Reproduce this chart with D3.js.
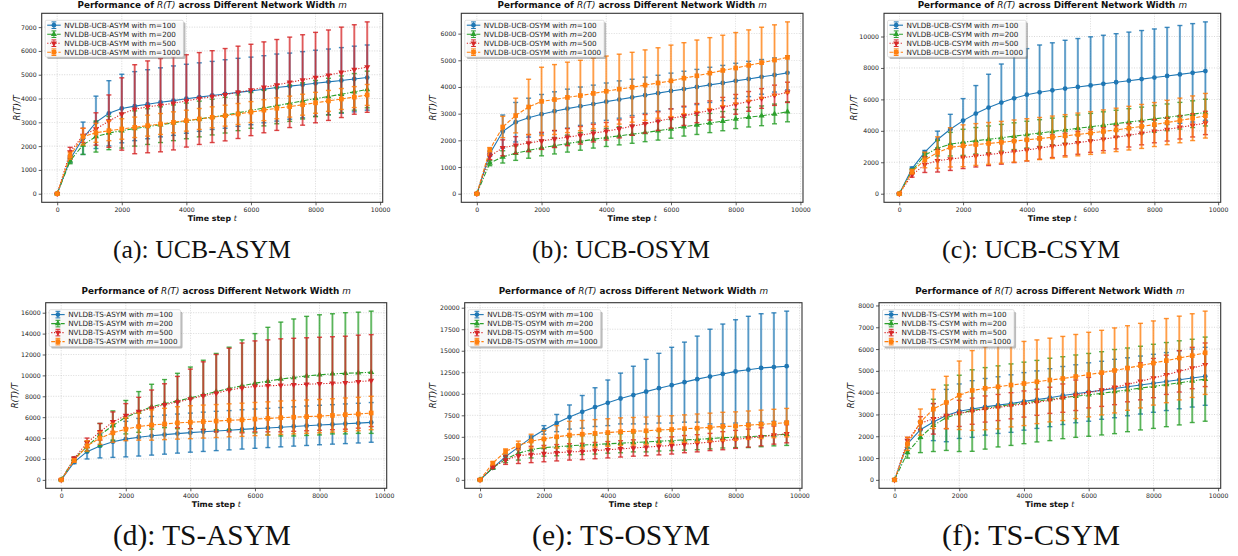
<!DOCTYPE html>
<html>
<head>
<meta charset="utf-8">
<script src="https://cdn.jsdelivr.net/npm/d3@7"></script>
<style>
  body { margin: 0; background: #fff; }
  text { font-family: "DejaVu Sans", sans-serif; }
</style>
</head>
<body>
<div id="chart-area"></div>
<script>
// time steps (x values shared by every panel)
const timeSteps = [0, 400, 800, 1200, 1600, 2000, 2400, 2800, 3200, 3600, 4000, 4400, 4800,
                   5200, 5600, 6000, 6400, 6800, 7200, 7600, 8000, 8400, 8800, 9200, 9600];
const widths = [100, 200, 500, 1000];
const panelNames = ["UCB-ASYM", "UCB-OSYM", "UCB-CSYM", "TS-ASYM", "TS-OSYM", "TS-CSYM"];
const captions = ["(a):  UCB-ASYM", "(b):  UCB-OSYM", "(c):  UCB-CSYM",
                  "(d):  TS-ASYM", "(e):  TS-OSYM", "(f):  TS-CSYM"];
const xTicks = [0, 2000, 4000, 6000, 8000, 10000];
const yTicks = [
  [0, 1000, 2000, 3000, 4000, 5000, 6000, 7000],
  [0, 1000, 2000, 3000, 4000, 5000, 6000],
  [0, 2000, 4000, 6000, 8000, 10000],
  [0, 2000, 4000, 6000, 8000, 10000, 12000, 14000, 16000],
  [0, 2500, 5000, 7500, 10000, 12500, 15000, 17500, 20000],
  [0, 1000, 2000, 3000, 4000, 5000, 6000, 7000, 8000]
];

// mean R(T)/T, one row per width m = 100, 200, 500, 1000
const ucbAsymMean = [
  [0,1450,2330,3000,3380,3580,3680,3760,3840,3910,3990,4060,4130,4190,4260,4320,4390,4460,4520,4580,4640,4700,4760,4820,4880],
  [0,1380,2050,2400,2550,2650,2740,2820,2900,2980,3060,3140,3220,3300,3400,3500,3600,3700,3800,3900,4000,4080,4180,4280,4380],
  [0,1750,2450,2720,3050,3350,3550,3650,3720,3800,3900,4000,4080,4160,4260,4360,4470,4570,4680,4780,4880,4980,5100,5220,5320],
  [0,1600,2400,2560,2650,2720,2790,2860,2930,3000,3070,3140,3210,3280,3350,3430,3510,3590,3660,3740,3820,3900,3980,4060,4150]
];
const ucbAsymStd = [
  [0,150,680,1100,1370,1440,1450,1450,1450,1460,1450,1440,1430,1440,1430,1420,1410,1410,1390,1390,1390,1380,1380,1380,1370],
  [0,120,400,650,700,730,740,750,750,750,750,750,750,750,750,750,750,760,760,760,760,770,770,770,770],
  [0,200,300,680,1100,1520,1870,1930,1960,1960,1940,1930,1930,1940,1940,1920,1910,1910,1900,1900,1900,1900,1900,1880,1900],
  [0,150,350,400,420,430,430,440,440,440,440,440,440,440,440,440,440,440,440,440,440,440,440,440,440]
];
const ucbOsymMean = [
  [0,1500,2330,2680,2850,2980,3090,3190,3280,3360,3450,3530,3610,3690,3770,3850,3920,4000,4080,4150,4230,4300,4380,4450,4530],
  [0,1150,1380,1520,1620,1720,1800,1880,1960,2040,2110,2170,2230,2290,2360,2430,2510,2580,2650,2720,2800,2870,2920,2990,3070],
  [0,1400,1720,1820,1900,1980,2050,2120,2190,2270,2340,2430,2530,2620,2720,2820,2920,3020,3120,3240,3350,3460,3570,3690,3800],
  [0,1650,2500,2930,3250,3460,3530,3610,3680,3760,3840,3920,3990,4070,4150,4230,4330,4420,4520,4620,4710,4810,4910,5010,5110]
];
const ucbOsymStd = [
  [0,100,620,740,730,740,730,730,720,710,700,700,680,680,670,670,670,660,660,660,660,660,650,640,640],
  [0,100,230,270,290,300,310,320,330,330,340,340,340,340,350,350,350,360,360,360,360,370,370,370,375],
  [0,120,300,320,320,320,320,320,330,330,330,340,340,350,350,360,360,360,360,370,370,370,370,380,380],
  [0,80,400,650,1040,1280,1310,1320,1320,1320,1320,1310,1310,1320,1320,1340,1330,1340,1330,1320,1330,1330,1330,1320,1330]
];
const ucbCsymMean = [
  [0,1600,2650,3450,4100,4650,5100,5480,5800,6070,6300,6450,6580,6690,6790,6890,6990,7090,7190,7290,7390,7490,7590,7690,7800],
  [0,1450,2450,2900,3150,3270,3370,3460,3560,3660,3760,3860,3960,4060,4160,4260,4360,4460,4560,4660,4760,4860,4960,5060,5160],
  [0,1200,1850,2100,2200,2300,2400,2490,2580,2680,2780,2900,3020,3130,3240,3360,3470,3590,3710,3850,3980,4090,4220,4350,4500],
  [0,1400,2150,2620,2950,3050,3130,3200,3270,3350,3430,3510,3590,3680,3770,3860,3960,4060,4170,4280,4400,4530,4660,4800,4960]
];
const ucbCsymStd = [
  [0,100,100,530,950,1400,1780,2120,2450,2730,2930,3010,3020,3070,3080,3090,3090,3090,3090,3090,3090,3090,3110,3130,3130],
  [0,120,150,500,750,830,840,850,850,850,850,850,850,850,850,850,850,850,850,850,850,850,850,850,850],
  [0,150,500,720,720,700,700,700,700,700,700,710,720,720,730,730,730,740,740,740,740,740,740,740,740],
  [0,150,500,1000,1250,1330,1330,1330,1330,1340,1340,1340,1350,1350,1360,1360,1370,1380,1390,1400,1400,1410,1420,1420,1420]
];
const tsAsymMean = [
  [0,1700,2700,3250,3650,3900,4080,4220,4330,4430,4520,4600,4680,4750,4830,4900,4970,5040,5110,5180,5250,5310,5370,5430,5500],
  [0,2000,3200,4300,5200,6000,6500,7000,7300,7550,7850,8150,8450,8750,9000,9250,9450,9650,9800,9950,10050,10150,10200,10250,10300],
  [0,2050,3550,4600,5550,6150,6550,6850,7200,7450,7750,8050,8300,8600,8800,8950,9000,9050,9100,9150,9200,9250,9300,9400,9500],
  [0,1850,3250,4000,4500,4850,5100,5250,5350,5450,5520,5580,5630,5700,5750,5820,5880,5950,6000,6050,6100,6170,6240,6300,6400]
];
const tsAsymStd = [
  [0,150,700,1150,1500,1700,1800,1850,1870,1870,1870,1880,1880,1880,1880,1880,1880,1880,1880,1890,1890,1890,1900,1900,1900],
  [0,150,500,1100,1400,1600,1950,2150,2300,2650,2950,3300,3650,3950,4400,4750,5150,5450,5600,5700,5750,5750,5800,5800,5850],
  [0,150,450,800,950,1150,1350,1750,2000,2450,2850,3250,3700,4000,4300,4350,4400,4450,4450,4450,4450,4450,4450,4450,4400],
  [0,150,500,600,900,1100,1300,1450,1500,1550,1580,1580,1580,1580,1590,1590,1590,1600,1600,1600,1600,1600,1600,1600,1600]
];
const tsOsymMean = [
  [0,1400,2700,3800,4900,5800,6600,7300,7900,8450,8950,9450,9850,10250,10650,11000,11350,11700,12000,12300,12600,12800,13000,13100,13200],
  [0,1400,2400,3100,3500,3750,3850,3950,4050,4100,4200,4250,4350,4400,4500,4550,4650,4700,4800,4900,4950,5000,5100,5200,5300],
  [0,1500,2300,2800,2950,3050,3150,3250,3300,3400,3500,3600,3700,3800,3900,4000,4150,4250,4400,4550,4700,4850,5000,5200,5350],
  [0,1950,3300,4000,4500,4750,5000,5200,5300,5400,5500,5600,5650,5700,5800,5850,5950,6000,6100,6200,6250,6350,6450,6550,6650]
];
const tsOsymStd = [
  [0,150,300,300,200,500,1000,1400,1900,2250,2650,2950,3350,3750,4050,4400,4650,5000,5500,5800,6000,6200,6300,6300,6400],
  [0,150,400,800,950,1000,1050,1050,1100,1100,1100,1100,1100,1150,1150,1150,1200,1200,1200,1200,1200,1250,1250,1250,1300],
  [0,150,500,900,950,950,950,950,950,950,950,950,950,1000,1000,1000,1000,1000,1000,1050,1050,1050,1050,1050,1050],
  [0,150,300,500,800,1000,1300,1600,1600,1600,1600,1600,1600,1600,1600,1600,1600,1650,1650,1650,1650,1650,1650,1650,1650]
];
const tsCsymMean = [
  [0,1650,2300,2650,2950,3150,3250,3350,3430,3500,3600,3680,3770,3870,3950,4030,4110,4190,4270,4350,4430,4510,4590,4670,4750],
  [0,1250,1950,2500,2850,3050,3180,3280,3370,3450,3530,3610,3690,3770,3840,3900,3970,4050,4130,4210,4290,4370,4450,4540,4620],
  [0,1800,2600,2800,2950,3050,3150,3250,3320,3400,3480,3560,3650,3750,3880,4000,4120,4250,4380,4520,4670,4820,4980,5130,5280],
  [0,1650,2650,3250,3550,3880,4100,4200,4270,4350,4420,4500,4580,4650,4740,4830,4920,5020,5130,5240,5360,5470,5590,5700,5830]
];
const tsCsymStd = [
  [0,200,400,850,1200,1250,1300,1300,1300,1320,1320,1320,1330,1330,1330,1340,1330,1340,1330,1330,1330,1330,1330,1330,1330],
  [0,250,700,1200,1500,1750,1870,1870,1860,1870,1870,1870,1890,1880,1890,1900,1910,1930,1920,1920,1930,1930,1930,1910,1930],
  [0,150,300,700,600,600,600,600,600,600,600,600,600,650,700,700,750,800,800,850,900,900,950,950,1000],
  [0,300,600,900,1200,1570,1830,1900,1930,1920,1930,1920,1920,1930,1930,1940,1940,1950,1940,1940,1930,1930,1920,1920,1910]
];

const panelMeans = [ucbAsymMean, ucbOsymMean, ucbCsymMean, tsAsymMean, tsOsymMean, tsCsymMean];
const panelStds  = [ucbAsymStd, ucbOsymStd, ucbCsymStd, tsAsymStd, tsOsymStd, tsCsymStd];
const italicM = [false, true, true, true, true, false];

// styles per width
const colors = ["#1f77b4", "#2ca02c", "#d62728", "#ff7f0e"];
const dashes = [null, "5,1.6,1.2,1.6", "1.2,1.6", "4,1.6"];
const symbols = [d3.symbolCircle, d3.symbolTriangle, d3.symbolTriangle, d3.symbolSquare];
const symRot = [0, 0, 180, 0];
const symSize = [18, 16, 16, 22];

// axes boxes (pixels)
const boxes = [
  {L: 41.7,  R: 382.7,  T: 13.3,  B: 202.3, yl: 17,    ty: 8.1,   cx: 202,  cy: 258},
  {L: 461.3, R: 803,    T: 13.3,  B: 202.3, yl: 433,   ty: 8.1,   cx: 621,  cy: 258},
  {L: 884,   R: 1220.7, T: 13.3,  B: 202.3, yl: 854,   ty: 8.1,   cx: 1031, cy: 258},
  {L: 45.7,  R: 386.7,  T: 302.7, B: 488.3, yl: 15,    ty: 293.8, cx: 202,  cy: 545},
  {L: 464.7, R: 802,    T: 302.7, B: 488.3, yl: 432.7, ty: 293.8, cx: 621,  cy: 545},
  {L: 879,   R: 1220.7, T: 302.7, B: 488.3, yl: 851,   ty: 293.8, cx: 1031, cy: 545}
];

let svg = d3.select("#chart-area").append("svg")
            .attr("width", 1238)
            .attr("height", 556);

function drawPanel(p) {
  const b = boxes[p], means = panelMeans[p], stds = panelStds[p];

  let lo = d3.min(means, (s, k) => d3.min(s, (v, i) => v - stds[k][i]));
  let hi = d3.max(means, (s, k) => d3.max(s, (v, i) => v + stds[k][i]));
  let pad = (hi - lo) * 0.05;

  let x = d3.scaleLinear().domain([-480, 10080]).range([b.L, b.R]);
  let y = d3.scaleLinear().domain([lo - pad, hi + pad]).range([b.B, b.T]);

  let g = svg.append("g").attr("class", "panel" + p);

  // grid
  g.append("g").selectAll("line").data(xTicks).enter().append("line")
   .attr("x1", d => x(d)).attr("x2", d => x(d)).attr("y1", b.T).attr("y2", b.B)
   .attr("stroke", "#b0b0b0").attr("stroke-width", 0.6).attr("stroke-dasharray", "1,1.5").attr("opacity", 0.8);
  g.append("g").selectAll("line").data(yTicks[p]).enter().append("line")
   .attr("x1", b.L).attr("x2", b.R).attr("y1", d => y(d)).attr("y2", d => y(d))
   .attr("stroke", "#b0b0b0").attr("stroke-width", 0.6).attr("stroke-dasharray", "1,1.5").attr("opacity", 0.8);

  // axes
  let xa = g.append("g").attr("transform", `translate(0,${b.B})`)
            .call(d3.axisBottom(x).tickValues(xTicks).tickSize(3).tickPadding(2).tickFormat(d3.format("d")));
  let ya = g.append("g").attr("transform", `translate(${b.L},0)`)
            .call(d3.axisLeft(y).tickValues(yTicks[p]).tickSize(3).tickPadding(2).tickFormat(d3.format("d")));
  [xa, ya].forEach(a => {
    a.select(".domain").remove();
    a.selectAll("line").attr("stroke", "#333").attr("stroke-width", 0.8);
    a.selectAll("text").attr("font-size", "6.2px").attr("fill", "#222")
     .style("font-family", "DejaVu Sans");
  });

  // series: error bars, then line and markers
  const line = d3.line().x((d, i) => x(timeSteps[i])).y(d => y(d));
  means.forEach((s, k) => {
    let sg = g.append("g");
    let eb = sg.append("g").selectAll("g").data(s).enter().append("g");
    const top = (d, i) => y(d + stds[k][i]), bot = (d, i) => y(d - stds[k][i]);
    eb.append("line")
      .attr("x1", (d, i) => x(timeSteps[i])).attr("x2", (d, i) => x(timeSteps[i]))
      .attr("y1", top).attr("y2", bot)
      .attr("stroke", colors[k]).attr("stroke-width", 2.2).attr("opacity", 0.5);
    eb.append("line")
      .attr("x1", (d, i) => x(timeSteps[i])).attr("x2", (d, i) => x(timeSteps[i]))
      .attr("y1", top).attr("y2", bot)
      .attr("stroke", colors[k]).attr("stroke-width", 0.6);
    [top, bot].forEach(f => {
      eb.append("line")
        .attr("x1", (d, i) => x(timeSteps[i]) - 2.5).attr("x2", (d, i) => x(timeSteps[i]) + 2.5)
        .attr("y1", f).attr("y2", f)
        .attr("stroke", colors[k]).attr("stroke-width", 1.4).attr("opacity", 0.85);
    });

    sg.append("path").attr("d", line(s))
      .attr("fill", "none").attr("stroke", colors[k]).attr("stroke-width", 1.1)
      .attr("stroke-dasharray", dashes[k]);

    sg.append("g").selectAll("path").data(s).enter().append("path")
      .attr("d", d3.symbol().type(symbols[k]).size(symSize[k]))
      .attr("transform", (d, i) => `translate(${x(timeSteps[i])},${y(d)}) rotate(${symRot[k]})`)
      .attr("fill", colors[k]);
  });

  // frame
  g.append("rect").attr("x", b.L).attr("y", b.T).attr("width", b.R - b.L).attr("height", b.B - b.T)
   .attr("fill", "none").attr("stroke", "#333").attr("stroke-width", 1.1);

  // title
  let title = g.append("text").attr("x", (b.L + b.R) / 2).attr("y", b.ty)
               .attr("text-anchor", "middle").attr("font-size", "8.8px").attr("font-weight", "bold").attr("fill", "#111");
  title.append("tspan").text("Performance of ");
  title.append("tspan").attr("font-style", "italic").attr("font-weight", "normal").text("R(T)");
  title.append("tspan").text(" across Different Network Width ");
  title.append("tspan").attr("font-style", "italic").attr("font-weight", "normal").text("m");

  // axis labels
  let xl = g.append("text").attr("x", (b.L + b.R) / 2).attr("y", b.B + 18.5)
            .attr("text-anchor", "middle").attr("font-size", "7.8px").attr("font-weight", "bold").attr("fill", "#111");
  xl.append("tspan").text("Time step ");
  xl.append("tspan").attr("font-style", "italic").attr("font-weight", "normal").text("t");
  g.append("text").attr("transform", `translate(${b.yl},${(b.T + b.B) / 2}) rotate(-90)`)
   .attr("text-anchor", "middle").attr("dy", "0.35em").attr("font-size", "8.4px").attr("font-style", "italic")
   .attr("fill", "#111").text("R(T)/T");

  // legend
  let lg = g.append("g").attr("transform", `translate(${b.L + 3.5},${b.T + 7})`);
  let shadow = lg.append("rect").attr("x", 2).attr("y", 2).attr("rx", 1.5)
                 .attr("fill", "#777").attr("opacity", 0.5);
  let frame = lg.append("rect").attr("rx", 1.5)
                .attr("fill", "#fff").attr("fill-opacity", 0.9).attr("stroke", "#ccc").attr("stroke-width", 0.6);
  let maxW = 0;
  widths.forEach((m, k) => {
    let ry = 4.9 + k * 9;
    let row = lg.append("g").attr("transform", `translate(0,${ry})`);
    row.append("line").attr("x1", 2).attr("x2", 15.5).attr("y1", 0).attr("y2", 0)
       .attr("stroke", colors[k]).attr("stroke-width", 1.1).attr("stroke-dasharray", dashes[k]);
    row.append("line").attr("x1", 8.7).attr("x2", 8.7).attr("y1", -3.3).attr("y2", 3.3)
       .attr("stroke", colors[k]).attr("stroke-width", 1.2).attr("opacity", 0.7);
    [-3.3, 3.3].forEach(cy => row.append("line").attr("x1", 6.3).attr("x2", 11.1).attr("y1", cy).attr("y2", cy)
       .attr("stroke", colors[k]).attr("stroke-width", 1));
    row.append("path").attr("d", d3.symbol().type(symbols[k]).size(symSize[k]))
       .attr("transform", `translate(8.7,0) rotate(${symRot[k]})`).attr("fill", colors[k]);
    let t = row.append("text").attr("x", 19).attr("dy", "0.35em").attr("font-size", "7.2px").attr("fill", "#222");
    t.append("tspan").text(`NVLDB-${panelNames[p]} with `);
    t.append("tspan").attr("font-style", italicM[p] ? "italic" : "normal").text("m");
    t.append("tspan").text(`=${m}`);
    maxW = Math.max(maxW, t.node().getComputedTextLength());
  });
  let lw = 19 + maxW + 3, lh = 4 * 9 + 0.8;
  shadow.attr("width", lw).attr("height", lh);
  frame.attr("width", lw).attr("height", lh);

  // caption below
  let cap = svg.append("text").attr("x", b.cx).attr("y", b.cy).attr("text-anchor", "middle")
               .style("font-family", "'Liberation Serif', serif").attr("font-size", "22px").attr("fill", "#111")
               .text(captions[p]);
  let cw = cap.node().getComputedTextLength();
  cap.attr("font-size", (22 * 178 / cw).toFixed(2) + "px");
}

panelNames.forEach((n, p) => drawPanel(p));
</script>
</body>
</html>
